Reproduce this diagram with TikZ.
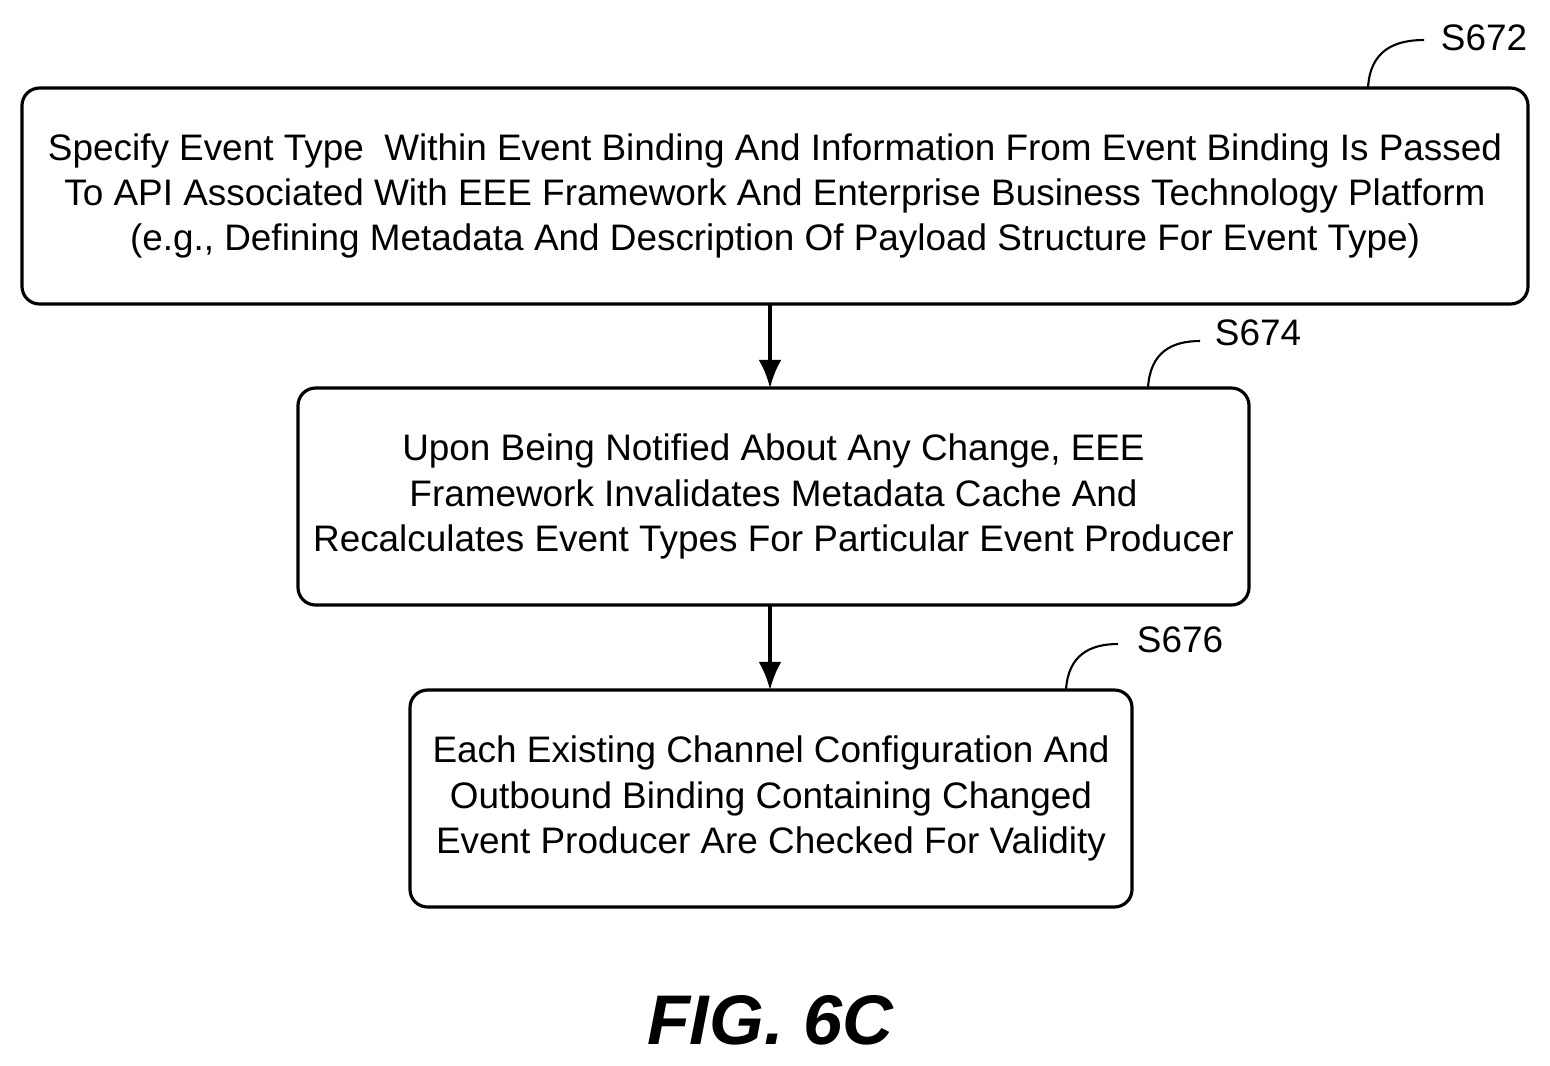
\documentclass[tikz,border=0pt]{standalone}
\usepackage{fontspec}
\setmainfont{Liberation Sans}
\usetikzlibrary{arrows.meta}
\begin{document}
\begin{tikzpicture}[x=0.02cm,y=-0.02cm,
 box/.style={draw,line width=1.8pt,rounded corners=10pt,align=center,font=\fontsize{21}{25.8}\selectfont,inner sep=0pt},
 arr/.style={-{Latex[length=16pt,width=13pt]},line width=2pt},
 lab/.style={font=\fontsize{21}{25}\selectfont},
 tick/.style={line width=1.2pt}]
\useasboundingbox (0,0) rectangle (1550,1065);
\node[box,minimum width=1506*0.02cm,minimum height=216*0.02cm] (b1) at (775,196) {Specify Event Type\ \ Within Event Binding And Information From Event Binding Is Passed\\To API Associated With EEE Framework And Enterprise Business Technology Platform\\(e.g., Defining Metadata And Description Of Payload Structure For Event Type)};
\node[box,minimum width=951*0.02cm,minimum height=217*0.02cm] (b2) at (773.5,496.5) {Upon Being Notified About Any Change, EEE\\Framework Invalidates Metadata Cache And\\Recalculates Event Types For Particular Event Producer};
\node[box,minimum width=722*0.02cm,minimum height=217*0.02cm] (b3) at (771,798.5) {Each Existing Channel Configuration And\\Outbound Binding Containing Changed\\Event Producer Are Checked For Validity};
\coordinate (a1s) at (770,304); \coordinate (a1e) at (770,388);
\coordinate (a2s) at (770,605); \coordinate (a2e) at (770,690);
\draw[arr] (a1s) -- (a1e);
\draw[arr] (a2s) -- (a2e);
\node[lab] (l1) at (1484,38) {S672};
\node[lab] (l2) at (1258,333) {S674};
\node[lab] (l3) at (1180,640) {S676};
\draw[tick] (1368,88) .. controls (1370,50) and (1395,40) .. (1424,40);
\draw[tick] (1148,388) .. controls (1150,352) and (1172,341) .. (1200,341);
\draw[tick] (1066,690) .. controls (1068,655) and (1090,644) .. (1118,644);
\node (fig) at (770,1020) {\fontsize{40}{44}\selectfont\bfseries\itshape FIG. 6C};
\end{tikzpicture}
\end{document}
